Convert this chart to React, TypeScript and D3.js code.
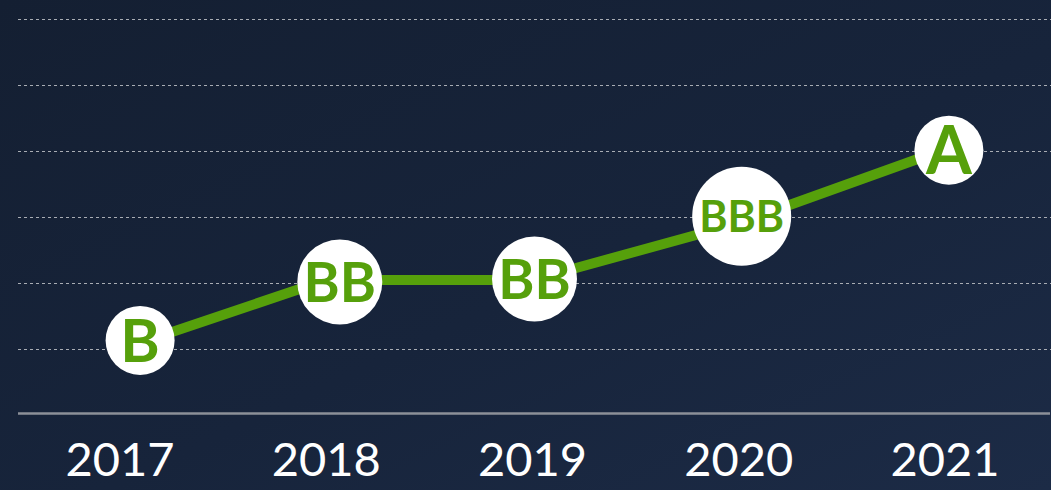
import React from "react";
import * as d3 from "d3";

const years = ["2017", "2018", "2019", "2020", "2021"];
const ratings = ["B", "BB", "BB", "BBB", "A"];
const ratingLevel = [1, 2.05, 2.05, 2.91, 4.03];
const gridLevels = [1, 2, 3, 4, 5, 6];

// layout (not data): badge radius, font size and nudge relative to the vertex
const badgeLayout = [
  { r: 34.5, fs: 60, dx: 20, dy: -9 },
  { r: 42.5, fs: 55, dx: 13.5, dy: 2 },
  { r: 42.5, fs: 55, dx: 2, dy: -1 },
  { r: 49.5, fs: 43, dx: 3, dy: -7 },
  { r: 34.5, fs: 66, dx: 4, dy: 1 },
];

const W = 1051;
const H = 490;
const GREEN = "#56a00b";

export default function App() {
  const x = d3.scaleBand<string>().domain(years).range([17, 1048]).padding(0);
  const y = d3.scaleLinear().domain([0, 6]).range([415.5, 19]);
  const cx = (i: number) => (x(years[i]) as number) + x.bandwidth() / 2;

  const line = d3
    .line<number>()
    .x((_, i) => cx(i))
    .y((d) => y(d));

  return (
    <svg
      width={W}
      height={H}
      style={{ position: "absolute", left: 0, top: 0, display: "block" }}
    >
      <defs>
        <linearGradient id="bg" x1="0" y1="0" x2="1" y2="1">
          <stop offset="0%" stopColor="#141f32" />
          <stop offset="55%" stopColor="#17243b" />
          <stop offset="100%" stopColor="#1c2b46" />
        </linearGradient>
      </defs>
      <rect x={0} y={0} width={W} height={H} fill="url(#bg)" />
      {gridLevels.map((g) => (
        <line
          key={g}
          x1={18}
          x2={W}
          y1={Math.round(y(g)) + 0.5}
          y2={Math.round(y(g)) + 0.5}
          stroke="#a9adb4"
          strokeWidth={1}
          strokeDasharray="3,3"
        />
      ))}
      <line x1={18} x2={1050} y1={413.5} y2={413.5} stroke="#8c9098" strokeWidth={2.5} />
      <path
        d={line(ratingLevel) || ""}
        fill="none"
        stroke={GREEN}
        strokeWidth={10}
        strokeLinejoin="round"
      />
      {ratings.map((r, i) => {
        const L = badgeLayout[i];
        const bx = cx(i) + L.dx;
        const by = y(ratingLevel[i]) + L.dy;
        return (
          <g key={i}>
            <circle cx={bx} cy={by} r={L.r} fill="#ffffff" />
            <text
              x={bx}
              y={by}
              dy="0.36em"
              textAnchor="middle"
              fontFamily="Lato, 'Open Sans', sans-serif"
              fontWeight={700}
              fontSize={L.fs}
              fill={GREEN}
            >
              {r}
            </text>
          </g>
        );
      })}
      {years.map((yr, i) => (
        <text
          key={yr}
          x={cx(i)}
          y={476}
          textAnchor="middle"
          fontFamily="Lato, 'Open Sans', sans-serif"
          fontSize={47}
          fill="#ffffff"
        >
          {yr}
        </text>
      ))}
    </svg>
  );
}
